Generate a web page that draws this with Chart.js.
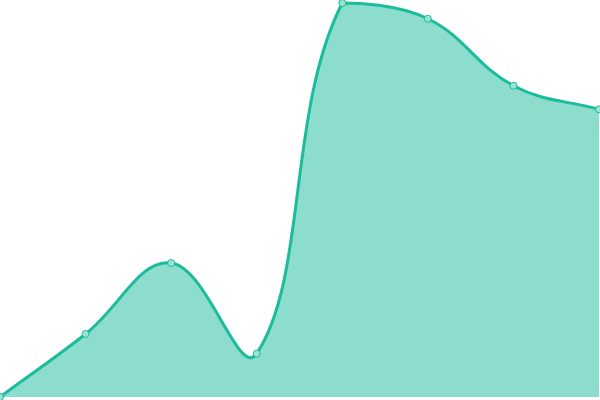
<!DOCTYPE html>
<html lang="en">
<head>
    <meta charset="UTF-8">
    <title>Area chart</title>
    <script src="https://cdn.jsdelivr.net/npm/chart.js"></script>
    <style>
        html, body { margin: 0; padding: 0; background: #fff; }
        #wrap { width: 600px; height: 400px; }
    </style>
</head>
<body>
    <div id="wrap"><canvas id="myChart"></canvas></div>

    <script>
        const labels = ['1', '2', '3', '4', '5', '6', '7', '8'];
        const values = [0, 16, 34, 11, 100, 96, 79, 73];

        const ctx = document.getElementById('myChart').getContext('2d');
        new Chart(ctx, {
            type: 'line',
            data: {
                labels: labels,
                datasets: [{
                    data: values,
                    fill: true,
                    tension: 0.4,
                    borderColor: '#1abc9c',
                    backgroundColor: 'rgba(26, 188, 156, 0.5)',
                    borderWidth: 3,
                    pointRadius: 3.5,
                    pointBorderWidth: 1,
                    pointBackgroundColor: '#9ae4d6',
                    pointBorderColor: '#1abc9c',
                    clip: false
                }]
            },
            options: {
                responsive: true,
                maintainAspectRatio: false,
                animation: false,
                layout: { autoPadding: false, padding: { top: 3, bottom: 3, left: 0, right: 1 } },
                plugins: {
                    legend: { display: false },
                    tooltip: { enabled: false }
                },
                scales: {
                    x: { display: false },
                    y: { display: false, min: 0, max: 100 }
                }
            }
        });
    </script>
</body>
</html>
